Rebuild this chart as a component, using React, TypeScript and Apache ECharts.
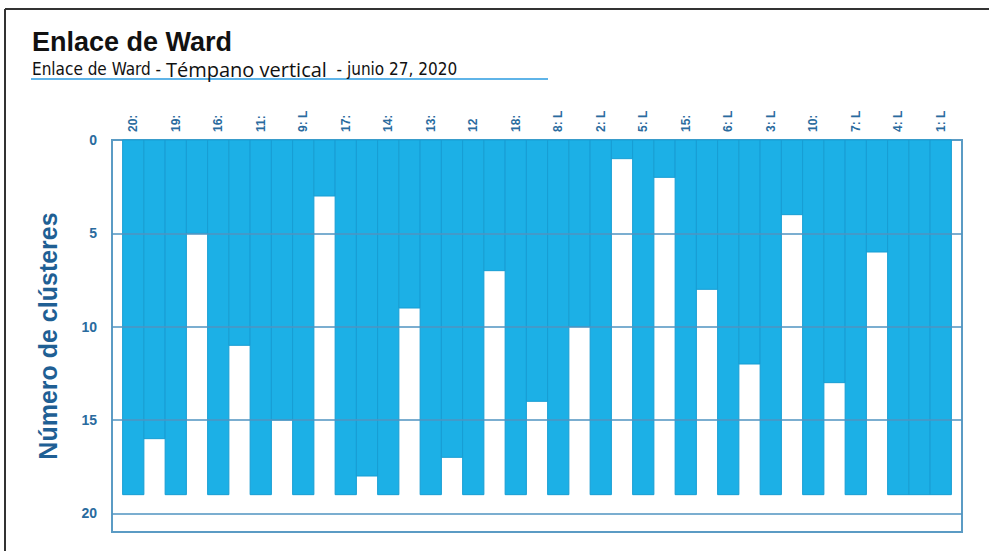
import React, { useEffect, useRef } from "react";
import * as echarts from "echarts";

// Cases in dendrogram order (labels as shown, truncated in source)
const cases = ["20:", "19:", "16:", "11:", "9: L", "17:", "14:", "13:", "12", "18:", "8: L", "2: L", "5: L", "15:", "6: L", "3: L", "10:", "7: L", "4: L", "1: L"];
// Number of clusters at which each adjacent pair of cases is joined
const joinLevels = [16, 5, 11, 15, 3, 18, 9, 17, 7, 14, 10, 1, 2, 8, 12, 4, 13, 6, 19];
// Each case column spans all levels
const caseDepth = 19;
// Y axis ticks / grid lines
const yTicks = [0, 5, 10, 15, 20];
const gridLines = [5, 10, 15, 20];

const titleText = "Enlace de Ward";
const subPart1 = "Enlace de Ward - ";
const subPart2 = "Témpano vertical";
const subPart3 = "  - junio 27, 2020";
const yName = "Número de clústeres";

export default function App() {
  const ref = useRef<HTMLDivElement>(null);
  useEffect(() => {
    document.body.style.margin = "0";
    if (!ref.current) return;
    const chart = echarts.init(ref.current, null, { renderer: "svg" });
    const columns: number[][] = [];
    cases.forEach((_, i) => {
      columns.push([2 * i, caseDepth]);
      if (i < joinLevels.length) columns.push([2 * i + 1, joinLevels[i]]);
    });
    const nCols = cases.length * 2 - 1;
    const blue = "#1cb0e6";
    const labelBlue = "#2a6b9e";
    chart.setOption({
      animation: false,
      backgroundColor: "#ffffff",
      title: [
        {
          text: titleText,
          left: 27,
          top: 23,
          textStyle: { fontFamily: "Liberation Sans, Arial, sans-serif", fontWeight: "bold", fontSize: 27, color: "#111" },
        },
        {
          text: `{a|${subPart1}}{b|${subPart2}}{a|${subPart3}}`,
          left: 27,
          top: 54,
          textStyle: {
            fontWeight: "normal",
            rich: {
              a: { fontFamily: "Liberation Sans Narrow, DejaVu Sans Condensed, sans-serif", fontSize: 17, fontWeight: "normal", color: "#111" },
              b: { fontFamily: "Open Sans, sans-serif", fontSize: 20, fontWeight: "normal", color: "#111" },
            },
          },
        },
      ],
      graphic: [
        { type: "line", shape: { x1: 5, y1: 9, x2: 989, y2: 9 }, style: { stroke: "#333", lineWidth: 2 } },
        { type: "line", shape: { x1: 5, y1: 9, x2: 5, y2: 551 }, style: { stroke: "#333", lineWidth: 2 } },
        { type: "line", shape: { x1: 31, y1: 79, x2: 548, y2: 79 }, style: { stroke: "#2a9be0", lineWidth: 1.5 } },
      ],
      grid: {
        left: 112,
        right: 27,
        top: 140,
        bottom: 19,
        show: true,
        borderColor: "#5b9bc4",
        borderWidth: 2,
        containLabel: false,
      },
      xAxis: {
        type: "value",
        position: "top",
        min: -1,
        max: nCols,
        interval: 1,
        axisLine: { show: false },
        axisTick: { show: false },
        splitLine: { show: false },
        axisLabel: {
          rotate: 90,
          margin: 8,
          color: labelBlue,
          fontSize: 12,
          fontWeight: "bold",
          fontFamily: "Liberation Sans, Arial, sans-serif",
          formatter: (v: number) => (v >= 0 && v % 2 === 0 && v / 2 < cases.length ? cases[v / 2] : ""),
        },
      },
      yAxis: {
        type: "value",
        inverse: true,
        min: 0,
        max: 21,
        interval: 5,
        name: yName,
        nameLocation: "middle",
        nameRotate: 90,
        nameGap: 52,
        nameTextStyle: { color: "#1f5f94", fontSize: 25, fontWeight: "bold", fontFamily: "Liberation Sans, Arial, sans-serif" },
        axisLine: { show: false },
        axisTick: { show: false },
        splitLine: { show: false },
        axisLabel: {
          margin: 15,
          color: labelBlue,
          fontSize: 14,
          fontWeight: "bold",
          fontFamily: "Liberation Sans, Arial, sans-serif",
          formatter: (v: number) => (yTicks.includes(v) ? String(v) : ""),
        },
      },
      series: [
        {
          type: "custom",
          data: columns,
          encode: { x: 0, y: 1 },
          renderItem: (params: any, api: any) => {
            const x = api.value(0);
            const v = api.value(1);
            const p0 = api.coord([x - 0.5, 0]);
            const p1 = api.coord([x + 0.5, v]);
            return {
              type: "rect",
              shape: { x: p0[0], y: p0[1], width: p1[0] - p0[0], height: p1[1] - p0[1] },
              style: { fill: blue, stroke: "#179dd3", lineWidth: 1 },
            };
          },
          markLine: {
            silent: true,
            symbol: "none",
            label: { show: false },
            lineStyle: { color: "#4f93c0", width: 1.5, type: "solid" },
            data: gridLines.map((g) => ({ yAxis: g })),
          },
        },
      ],
    });
    return () => chart.dispose();
  }, []);
  return <div ref={ref} style={{ width: 989, height: 551 }} />;
}
